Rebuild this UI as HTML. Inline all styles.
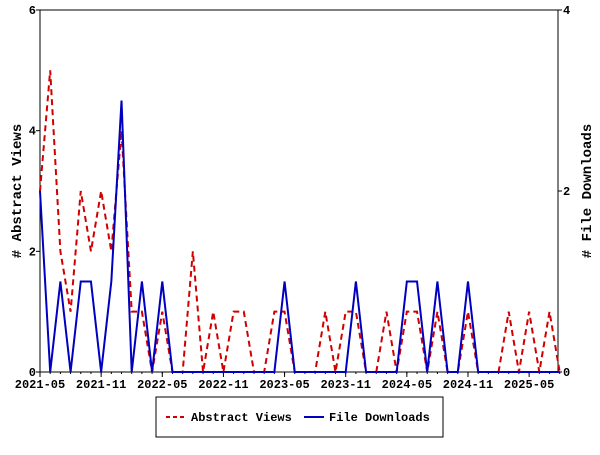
<!DOCTYPE html>
<html><head><meta charset="utf-8"><style>
body{margin:0;background:#fff}
text{font-family:"Liberation Mono","DejaVu Sans Mono",monospace;font-weight:bold;font-size:12px}
</style></head><body>
<svg id="c" width="600" height="450"></svg>
<script>
const months=["2021-05","2021-06","2021-07","2021-08","2021-09","2021-10","2021-11","2021-12","2022-01","2022-02","2022-03","2022-04","2022-05","2022-06","2022-07","2022-08","2022-09","2022-10","2022-11","2022-12","2023-01","2023-02","2023-03","2023-04","2023-05","2023-06","2023-07","2023-08","2023-09","2023-10","2023-11","2023-12","2024-01","2024-02","2024-03","2024-04","2024-05","2024-06","2024-07","2024-08","2024-09","2024-10","2024-11","2024-12","2025-01","2025-02","2025-03","2025-04","2025-05","2025-06","2025-07","2025-08"];
const abstractViews=[3,5,2,1,3,2,3,2,4,1,1,0,1,0,0,2,0,1,0,1,1,0,0,1,1,0,0,0,1,0,1,1,0,0,1,0,1,1,0,1,0,0,1,0,0,0,1,0,1,0,1,0];
const fileDownloads=[2,0,1,0,1,1,0,1,3,0,1,0,1,0,0,0,0,0,0,0,0,0,0,0,1,0,0,0,0,0,0,1,0,0,0,0,1,1,0,1,0,0,1,0,0,0,0,0,0,0,0,0];
const xTickLabels=["2021-05","2021-11","2022-05","2022-11","2023-05","2023-11","2024-05","2024-11","2025-05"];
const leftTicks=[0,2,4,6];
const rightTicks=[0,2,4];
const L=40,R=558,T=10,B=372;
const x=i=>L+i*10.19;
const yL=v=>B-(v/6)*(B-T);
const yR=v=>B-(v/4)*(B-T);
const s=document.getElementById('c'),NS="http://www.w3.org/2000/svg";
function mk(t,a,p){const e=document.createElementNS(NS,t);for(const k in a)e.setAttribute(k,a[k]);(p||s).appendChild(e);return e;}
let e;
e=mk('rect',{x:L,y:T,width:R-L,height:B-T,fill:'none',stroke:'#000'});


xTickLabels.forEach(lb=>{const i=months.indexOf(lb);const px=x(i);
 mk('line',{x1:px,x2:px,y1:B,y2:B+5,stroke:'#000'});
 e=mk('text',{x:px,y:B+16,'text-anchor':'middle'});e.textContent=lb;
 
 });
months.forEach((m,i)=>{mk('line',{x1:x(i),x2:x(i),y1:B,y2:B+2,stroke:'#000'});});
leftTicks.forEach(v=>{mk('line',{x1:L-4,x2:L,y1:yL(v),y2:yL(v),stroke:'#000'});
 e=mk('text',{x:L-4,y:yL(v)+4,'text-anchor':'end'});e.textContent=v;
 
 });
rightTicks.forEach(v=>{mk('line',{x1:R,x2:R+4,y1:yR(v),y2:yR(v),stroke:'#000'});
 e=mk('text',{x:R+5,y:yR(v)+4}); e.textContent=v;
 
 });
e=mk('text',{transform:'translate(21,191) rotate(-90)','text-anchor':'middle',style:'font-size:14px'});e.textContent='# Abstract Views';


e=mk('text',{transform:'translate(591,191) rotate(-90)','text-anchor':'middle',style:'font-size:14px'});e.textContent='# File Downloads';


e=mk('polyline',{points:abstractViews.map((v,i)=>x(i)+','+yL(v)).join(' '),fill:'none',stroke:'#d00000','stroke-width':2,'stroke-dasharray':'6,4'});


e=mk('polyline',{points:fileDownloads.map((v,i)=>x(i)+','+yR(v)).join(' '),fill:'none',stroke:'#0000c0','stroke-width':2});


e=mk('rect',{x:156,y:397,width:287,height:40,fill:'#fff',stroke:'#000'});


mk('line',{x1:166,x2:186,y1:417,y2:417,stroke:'#d00000','stroke-width':2,'stroke-dasharray':'4,3'});
e=mk('text',{x:191,y:421});e.textContent='Abstract Views';


mk('line',{x1:304,x2:324,y1:417,y2:417,stroke:'#0000c0','stroke-width':2});
e=mk('text',{x:329,y:421});e.textContent='File Downloads';


</script>
</body></html>
